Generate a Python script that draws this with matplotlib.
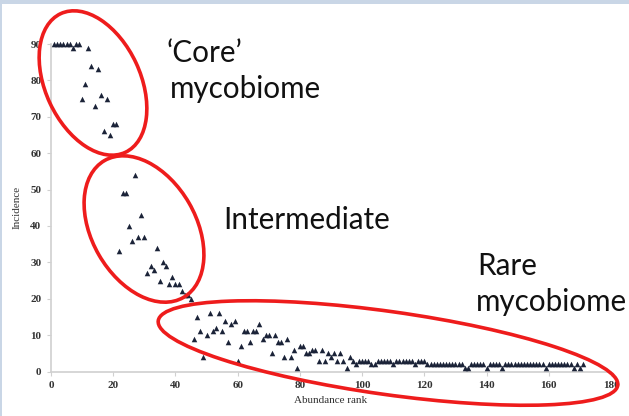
import matplotlib
matplotlib.use("Agg")
import matplotlib.pyplot as plt
from matplotlib.patches import Ellipse, Rectangle
from matplotlib.transforms import IdentityTransform
import numpy as np

# Incidence per abundance rank (rank 1 first)
core = [90, 90, 90, 90, 90, 90, 89, 90, 90, 75, 79, 89, 84, 73, 83, 76, 66, 75, 65, 68, 68]
intermediate = [33, 49, 49, 40, 36, 54, 37, 43, 37, 27, 29, 28, 34, 25, 30, 29, 24, 26, 24, 24,
                22, 21, 21, 20]
rare = [9, 15, 11, 4, 10, 16, 11, 12, 16, 11, 14, 8, 13, 14, 3, 7, 11, 11, 8, 11,
        11, 13, 9, 10, 10, 5, 10, 8, 8, 4, 9, 4, 6, 1, 7, 7, 5, 5, 6, 6,
        3, 6, 3, 5, 4, 5, 3, 5, 3, 1, 4, 3, 2, 3, 3, 3, 3, 2, 2, 3,
        3, 3, 3, 3, 2, 3, 3, 3, 3, 3, 3, 2, 3, 3, 3, 2, 2, 2, 2, 2,
        2, 2, 2, 2, 2, 2, 2, 1, 1, 2, 2, 2, 2, 2, 1, 2, 2, 2, 2, 1,
        2, 2, 2, 2, 2, 2, 2, 2, 2, 2, 2, 2, 2, 1, 2, 2, 2, 2, 2, 2,
        2, 2, 1, 2, 1, 2]

incidence = core + intermediate + rare
rank = np.arange(1, len(incidence) + 1)

x_ticks = np.arange(0, 181, 20)
y_ticks = np.arange(0, 91, 10)

W, H = 629, 416
fig = plt.figure(figsize=(W / 100, H / 100), dpi=100)
fig.patch.set_facecolor("white")

ax = fig.add_axes([51 / W, 1 - 371.5 / H, 560 / W, 327.5 / H])
ax.scatter(rank, incidence, marker="^", s=16, color="#1b2338", linewidths=0, clip_on=False, zorder=3)

ax.set_xlim(0, 180)
ax.set_ylim(0, 90)
ax.set_xticks(x_ticks)
ax.set_yticks(y_ticks)
for side in ("top", "right"):
    ax.spines[side].set_visible(False)
for side in ("left", "bottom"):
    ax.spines[side].set_color("#d0d0d0")
    ax.spines[side].set_linewidth(1.2)
ax.tick_params(length=3, color="#d0d0d0", labelsize=8, labelcolor="#333333", pad=4)
for lbl in ax.get_xticklabels() + ax.get_yticklabels():
    lbl.set_family("Liberation Serif")
    lbl.set_fontweight("bold")
ax.set_xlabel("Abundance rank", family="Liberation Serif", fontsize=8, color="#333333", labelpad=4)
ax.set_ylabel("Incidence", family="Liberation Serif", fontsize=8, color="#333333", labelpad=6)

# thin slide frame along top and left
fig.add_artist(Rectangle((0, H - 4), W, 4, transform=IdentityTransform(),
                         facecolor="#c9d6e6", edgecolor="none"))
fig.add_artist(Rectangle((0, 0), 2, H, transform=IdentityTransform(),
                         facecolor="#c9d6e6", edgecolor="none"))

# red ellipses, in image pixels (y measured from top)
def ring(cx, cy, w, h, angle):
    e = Ellipse((cx, H - cy), w, h, angle=angle, transform=IdentityTransform(),
                fill=False, edgecolor="#ee1c1c", linewidth=2.6, zorder=5)
    fig.add_artist(e)

ring(93, 83, 153, 95, -65)
ring(144, 229, 158, 104, -60)
ring(388, 353, 464, 83, -8)

# labels
font = dict(family="Lato", fontsize=21.3, color="#111111", transform=IdentityTransform())
def label(x, y, s):
    fig.text(x, H - y, s, ha="left", va="baseline", **font)

label(167, 62, "\u2018Core\u2019")
label(170, 98, "mycobiome")
label(223, 229, "Intermediate")
label(477, 275, "Rare")
label(476, 311, "mycobiome")

fig.savefig("out.png", dpi=100, facecolor="white")
